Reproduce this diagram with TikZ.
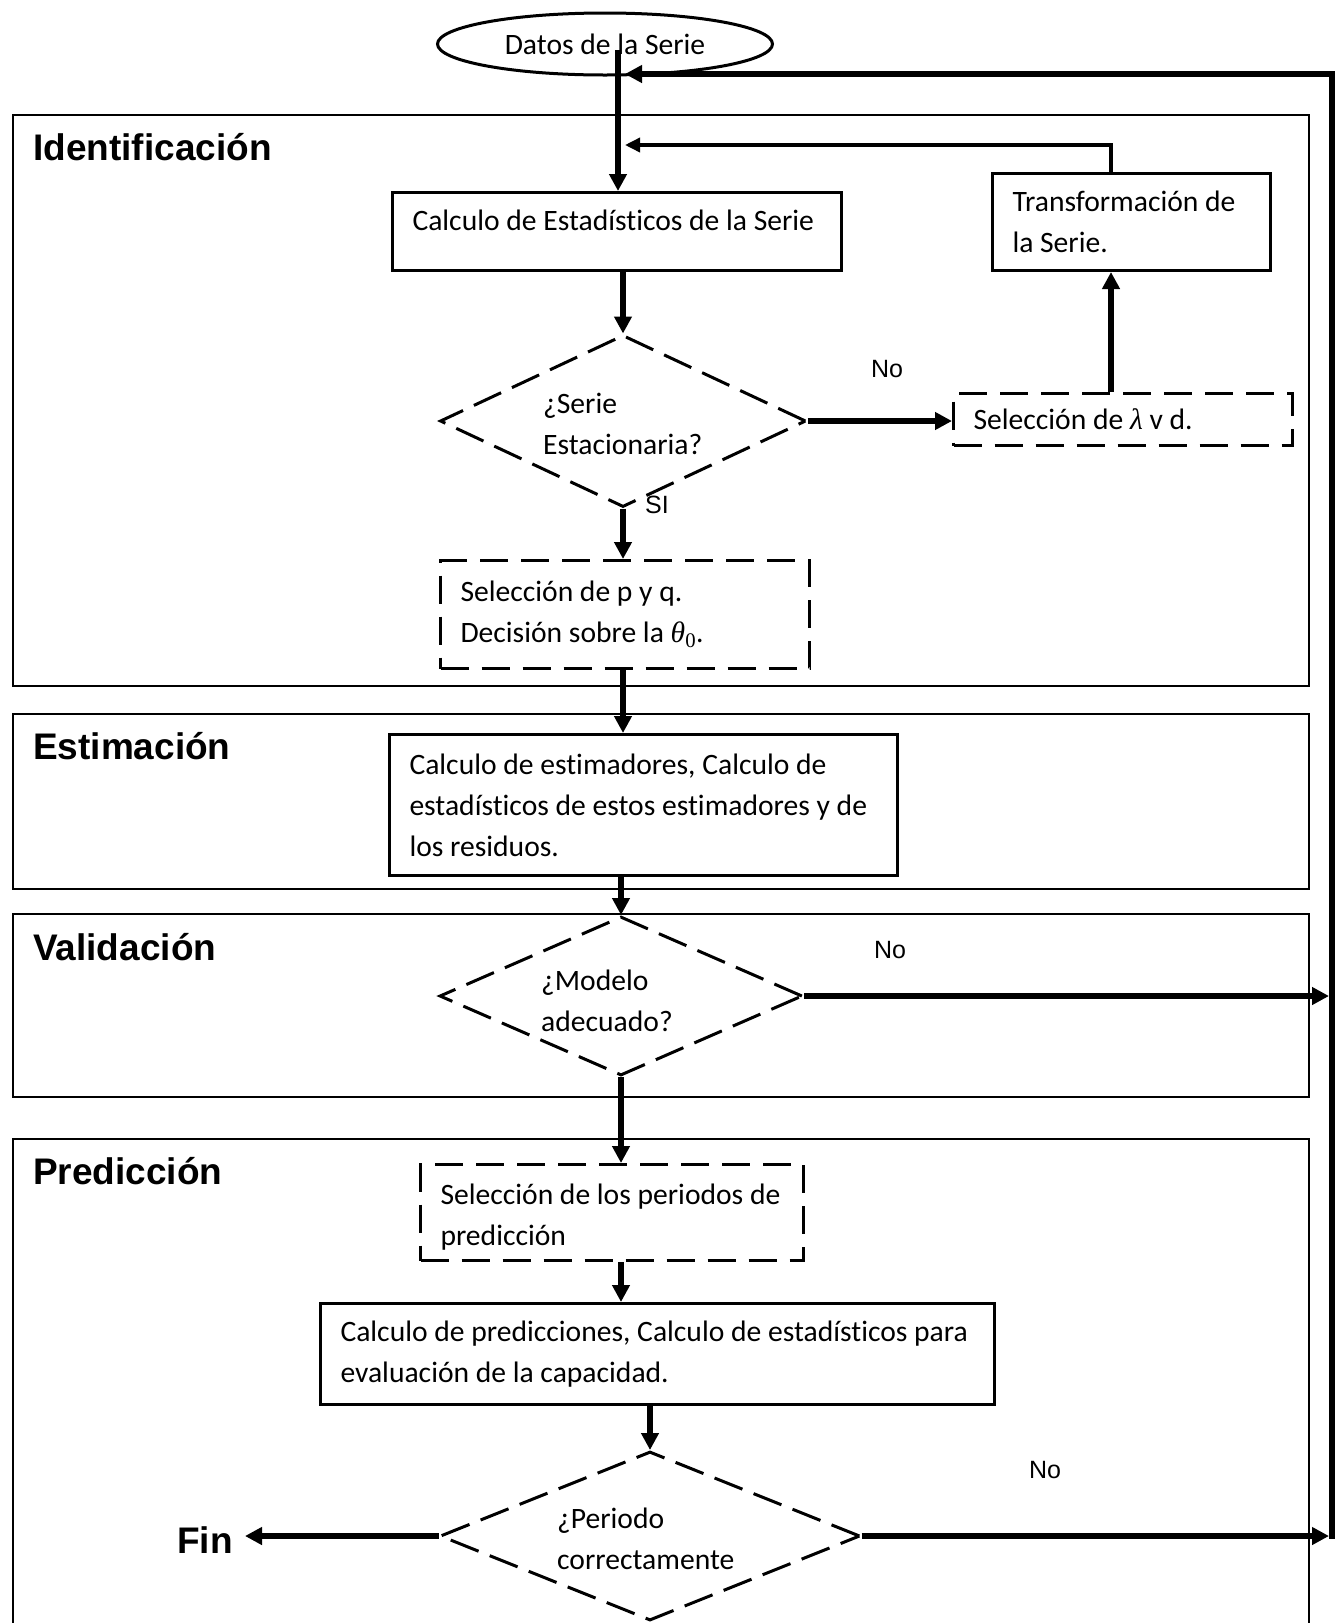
\documentclass[tikz,border=0pt]{standalone}
\usepackage{fontspec}
\setmainfont{Carlito}[Ligatures=CommonOff]
\newfontfamily\headfont{Liberation Sans}
\newfontfamily\grkfont{Liberation Serif}
\newcommand{\grk}[1]{{\grkfont\itshape #1}}
\usetikzlibrary{shapes.geometric,arrows.meta,calc}
\begin{document}
\begin{tikzpicture}[x=1pt,y=-1pt,
  body/.style={font=\fontsize{29.6}{41}\selectfont},
  box/.style={draw, line width=3pt, rectangle, inner xsep=20pt, inner ysep=0pt, align=flush left, body, anchor=north west},
  dbox/.style={box, dash pattern=on 28pt off 13pt},
  dec/.style={draw, diamond, line width=3pt, dash pattern=on 30pt off 12pt, inner sep=0pt},
  dtxt/.style={body, align=flush left, anchor=west, inner sep=0pt},
  sec/.style={draw, line width=1.6pt, rectangle, inner sep=0pt, anchor=north west},
  head/.style={font=\headfont\bfseries\fontsize{37}{40}\selectfont, inner sep=0pt},
  lab/.style={font=\headfont\fontsize{25}{28}\selectfont, inner sep=0pt},
  arr/.style={line width=5.5pt, -{Triangle[length=17pt,width=17pt]}},
  thinarr/.style={line width=3.5pt, -{Triangle[length=15pt,width=14pt]}},
  railline/.style={line width=5.5pt, -{Triangle[length=17pt,width=17pt]}}
]
\useasboundingbox (0,0) rectangle (1337,1623);
\clip (0,0) rectangle (1337,1623);

% sections
\node[sec, minimum width=1296pt, minimum height=571pt] (s1) at (12,114) {};
\node[sec, minimum width=1296pt, minimum height=175pt] (s2) at (12,713) {};
\node[sec, minimum width=1296pt, minimum height=183pt] (s3) at (12,913) {};
\node[sec, minimum width=1296pt, minimum height=530pt] (s4) at (12,1138) {};

\node[head, anchor=west] (h1) at (33,147) {Identificación};
\node[head, anchor=west] (h2) at (33,746) {Estimación};
\node[head, anchor=west] (h3) at (33,947) {Validación};
\node[head, anchor=west] (h4) at (33,1171) {Predicción};

% start
\node[draw, ellipse, line width=3pt, minimum width=335pt, minimum height=62pt, inner sep=0pt, body] (src) at (605,44) {Datos de la Serie};

% boxes
\node[box, text width=409pt, minimum height=78pt, text depth=22pt] (c1) at (391,191) {Calculo de Estadísticos de la Serie};
\node[box, text width=238pt, minimum height=97pt] (t1) at (991,172) {Transformación de\\la Serie.};
\node[dbox, text width=299pt, minimum height=52pt] (l1) at (952,392) {Selección de \grk{λ} v d.};
\node[dbox, text width=329pt, minimum height=108pt] (p1) at (439,559) {Selección de p y q.\\Decisión sobre la \grk{θ}{\grkfont\textsubscript{0}}.};
\node[box, text width=468pt, minimum height=141pt] (e1) at (388,733) {Calculo de estimadores, Calculo de\\estadísticos de estos estimadores y de\\los residuos.};
\node[dbox, text width=343pt, minimum height=96pt, text height=29pt] (q1) at (419,1163) {Selección de los periodos de\\predicción};
\node[box, text width=634pt, minimum height=101pt] (r1) at (319,1302) {Calculo de predicciones, Calculo de estadísticos para\\evaluación de la capacidad.};

% decisions
\node[dec, minimum width=366pt, minimum height=172pt] (d1) at (623,421) {};
\node[dtxt] (d1t) at (543,424) {¿Serie\\Estacionaria?};
\node[dec, minimum width=363pt, minimum height=159pt] (d2) at (621,996) {};
\node[dtxt] (d2t) at (541,1001) {¿Modelo\\adecuado?};
\node[dec, minimum width=420pt, minimum height=169pt] (d3) at (650,1536) {};
\node[dtxt] (d3t) at (557,1539) {¿Periodo\\correctamente};

\node[head, anchor=east] (fin) at (233,1540) {Fin};

% labels
\node[lab] (no1) at (887,369) {No};
\node[lab] (si1) at (657,505) {SI};
\node[lab] (no2) at (890,950) {No};
\node[lab] (no3) at (1045,1470) {No};

% coordinates
\coordinate (s0) at (618,50);
\coordinate (fb) at (1111,145);
\coordinate (rail) at (1332,74);
\coordinate (ret) at (625,74);

% connectors
\draw[arr] (s0) -- (s0 |- c1.north);
\draw[arr] (c1.south -| d1.north) -- (d1.north);
\draw[arr] (d1.east) -- (d1.east -| l1.west);
\draw[arr] (fb |- l1.north) -- (fb |- t1.south);
\draw[thinarr] (fb |- t1.north) -- (fb) -- (ret |- fb);
\draw[arr] (d1.south) -- (d1.south |- p1.north);
\draw[arr] (p1.south -| d1.south) -- (d1.south |- e1.north);
\draw[arr] (e1.south -| d2.north) -- (d2.north);
\draw[arr] (d2.east) -- ($(d2.east -| rail)+(-3,0)$);
\draw[arr] (d2.south) -- (d2.south |- q1.north);
\draw[arr] (q1.south -| d2.south) -- (d2.south |- r1.north);
\draw[arr] (r1.south -| d3.north) -- (d3.north);
\draw[arr] (d3.east) -- ($(d3.east -| rail)+(-3,0)$);
\draw[arr, shorten >=12pt] (d3.west) -- (d3.west -| fin.east);
\draw[railline] ($(d3.east -| rail)+(0,2.75)$) -- (rail) -- (ret);
\end{tikzpicture}
\end{document}
